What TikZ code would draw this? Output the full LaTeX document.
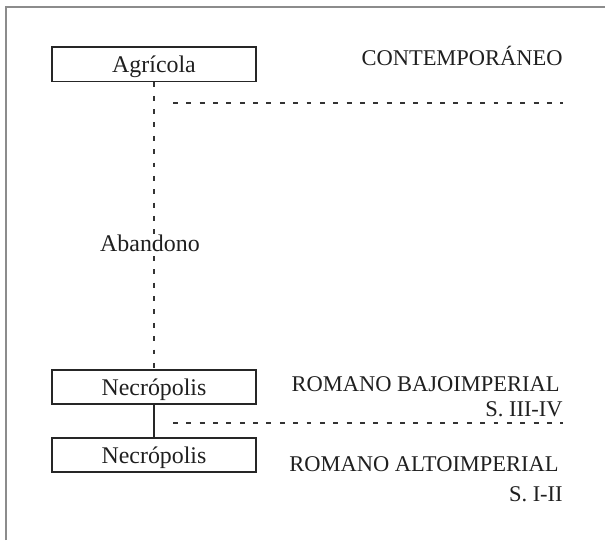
\documentclass[tikz,border=0pt]{standalone}
\usepackage{fontspec}
\setmainfont{Liberation Serif}
\usepackage{tikz}
\usetikzlibrary{positioning}
\definecolor{tinta}{gray}{0.12}
\begin{document}
\begin{tikzpicture}[
  every node/.style={text=tinta},
  fase/.style={draw=black!85, line width=1.3pt, minimum width=5.1125cm, minimum height=0.855cm, inner sep=0pt, text depth=0pt, font=\fontsize{17}{19}\selectfont},
  periodo/.style={anchor=base east, inner sep=0pt, font=\fontsize{16}{18}\selectfont},
  corte/.style={draw=black!80, line width=1.3pt, dash pattern=on 3.5pt off 6pt}
]
\useasboundingbox (0,0) rectangle (15.125,13.5);

% marco
\draw [black!45, line width=1.4pt] (0.1425,0) -- (0.1425,13.333) -- (15.125,13.333);

% fases
\node [fase] (agricola) at (3.85,11.89) {Agr\'icola};
\node [fase] (necroB) at (3.85,3.825) {Necr\'opolis};
\node [fase] (necroA) at (3.85,2.125) {Necr\'opolis};

\draw [corte] (agricola) -- (necroB);
\draw [black!85, line width=1.3pt] (necroB) -- (necroA);
\node [anchor=base, inner sep=0pt, font=\fontsize{17}{19}\selectfont] (abandono) at (3.75,7.225) {Abandono};

% periodos
\node [periodo] (contemp) at (14.075,11.85) {CONTEMPOR\'ANEO};
\node [periodo] (bajo) at (14.0,3.725) {ROMANO BAJOIMPERIAL};
\node [periodo] (bajoS) at (14.075,3.1) {S. III-IV};
\node [periodo] (alto) at (13.975,1.725) {ROMANO ALTOIMPERIAL};
\node [periodo] (altoS) at (14.075,0.975) {S. I-II};

% cortes
\coordinate (corteUnoA) at (4.325,10.925);
\coordinate (corteUnoB) at (14.075,10.925);
\draw [corte] (corteUnoA) -- (corteUnoB);
\coordinate (corteDosA) at (4.325,2.9325);
\coordinate (corteDosB) at (14.075,2.9325);
\draw [corte] (corteDosA) -- (corteDosB);
\end{tikzpicture}
\end{document}
